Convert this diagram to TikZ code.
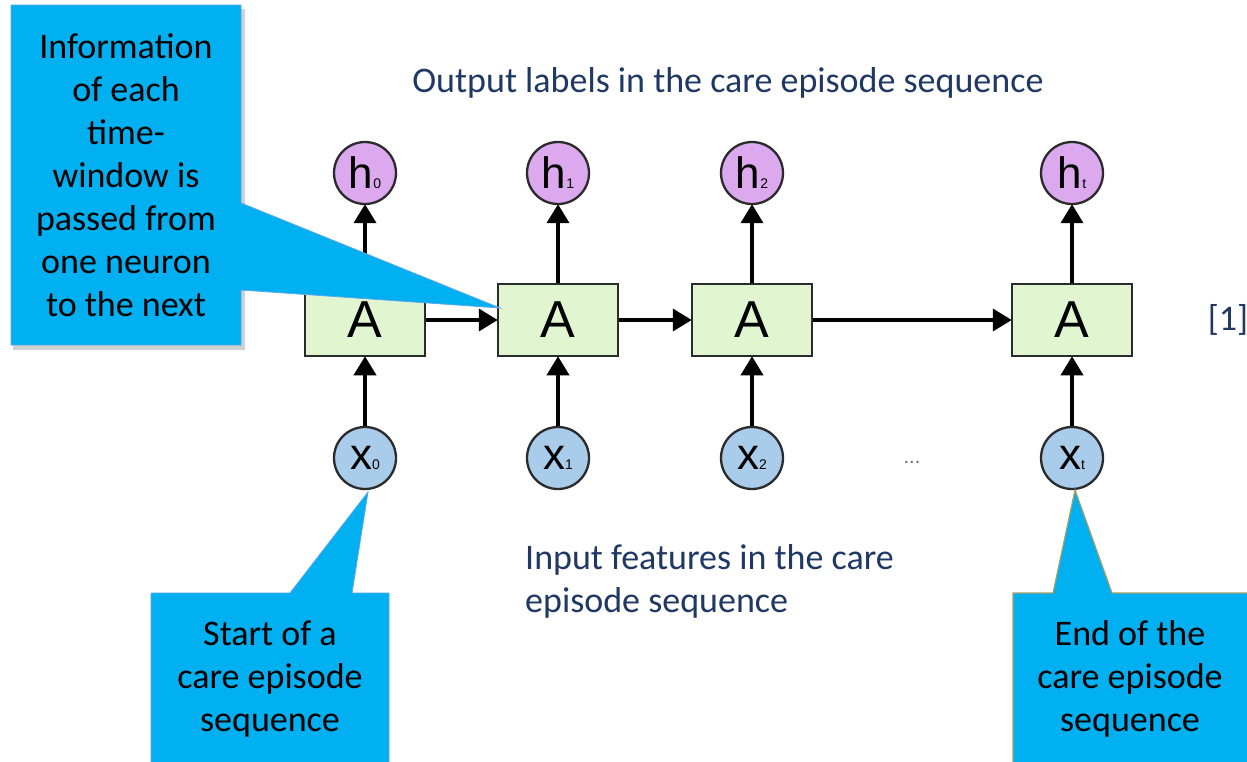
\documentclass[tikz,border=0pt]{standalone}
\usepackage{fontspec}
\setmainfont{Carlito}
\newfontfamily\helv{Liberation Sans}
\usetikzlibrary{arrows.meta}
\definecolor{callout}{HTML}{00B0F0}
\definecolor{calloutedge}{HTML}{5AA7EE}
\definecolor{olive}{HTML}{A89F62}
\definecolor{navy}{HTML}{1F3864}
\definecolor{boxgreen}{HTML}{E1F5D0}
\definecolor{hpurple}{HTML}{DCA9EE}
\definecolor{xblue}{HTML}{A9CCEB}
\definecolor{edgegray}{HTML}{2B2B2B}
\newcommand{\hlab}[1]{{\helv\fontsize{44}{44}\selectfont h}{\helv\fontsize{14}{14}\selectfont #1}}
\newcommand{\xlab}[1]{{\helv\fontsize{44}{44}\selectfont x}{\helv\fontsize{14}{14}\selectfont #1}}
\begin{document}
\begin{tikzpicture}[x=1pt,y=-1pt,
  cell/.style={draw=edgegray, line width=2.5pt, fill=boxgreen, minimum width=120pt, minimum height=72pt, inner sep=0pt, font=\helv\fontsize{52}{52}\selectfont},
  hcirc/.style={circle, draw=edgegray, line width=2.3pt, fill=hpurple, minimum size=62pt, inner sep=0pt},
  xcirc/.style={circle, draw=edgegray, line width=2.3pt, fill=xblue, minimum size=62pt, inner sep=0pt},
  link/.style={-{Triangle[length=19pt,width=22pt]}, line width=3.8pt, black, shorten >=-1pt},
  calltext/.style={align=center, font=\fontsize{36}{43}\selectfont, text=black, inner sep=0pt},
  navytext/.style={font=\fontsize{36}{43}\selectfont, text=navy, inner sep=0pt},
  shadowfill/.style={fill=black, opacity=0.18},
]
\useasboundingbox (0,0) rectangle (1247,761);
\fill[white] (0,0) rectangle (1247,761);

% cells
\node[cell] (a0) at (365,320) {A};
\node[cell] (a1) at (558,320) {A};
\node[cell] (a2) at (752,320) {A};
\node[cell] (at) at (1072,320) {A};

\node[hcirc] (h0) at (365,173) {\hlab{0}};
\node[hcirc] (h1) at (558,173) {\hlab{1}};
\node[hcirc] (h2) at (752,173) {\hlab{2}};
\node[hcirc] (ht) at (1072,173) {\hlab{t}};

\node[xcirc] (x0) at (365,458) {\xlab{0}};
\node[xcirc] (x1) at (558,458) {\xlab{1}};
\node[xcirc] (x2) at (752,458) {\xlab{2}};
\node[xcirc] (xt) at (1072,458) {\xlab{t}};

\foreach \c in {0,1,2,t}{
  \draw[link] (x\c) -- (a\c);
  \draw[link] (a\c) -- (h\c);
}
\draw[link] (a0) -- (a1);
\draw[link] (a1) -- (a2);
\draw[link] (a2) -- (at);

\node[text=black!60, font=\helv\fontsize{20}{20}\selectfont] (dots) at (912,462) {...};

% texts
\node[navytext] (outlab) at (728,83) {Output labels in the care episode sequence};
\node[navytext, anchor=west, align=left] (inlab) at (525,581) {Input features in the care\\episode sequence};
\node[navytext] (ref) at (1228,320) {[1]};

% callout: top-left
\coordinate (tipinfo) at (500,308);
\fill[shadowfill] (13,9) rectangle (245,350);
\filldraw[fill=callout, draw=calloutedge, line width=0.8pt]
  (11,5) -- (241,5) -- (241,203) -- (tipinfo) -- (241,290) -- (241,345) -- (11,345) -- cycle;
\node[calltext] (info) at (126,175) {Information\\of each\\time-\\window is\\passed from\\one neuron\\to the next};

% callout: bottom-left
\coordinate (tipstart) at (368,492);
\filldraw[fill=callout, draw=calloutedge, line width=0.8pt]
  (151,593) -- (290,593) -- (tipstart) -- (352,593) -- (389,593) -- (389,765) -- (151,765) -- cycle;
\node[calltext] (start) at (270,679) {Start of a\\care episode\\sequence};

% callout: bottom-right
\coordinate (tipend) at (1075,490);
\filldraw[fill=callout, draw=olive, line width=1.2pt]
  (1013,593) -- (1053,593) -- (tipend) -- (1112,593) -- (1252,593) -- (1252,765) -- (1013,765) -- cycle;
\node[calltext] (endc) at (1130,679) {End of the\\care episode\\sequence};
\end{tikzpicture}
\end{document}
